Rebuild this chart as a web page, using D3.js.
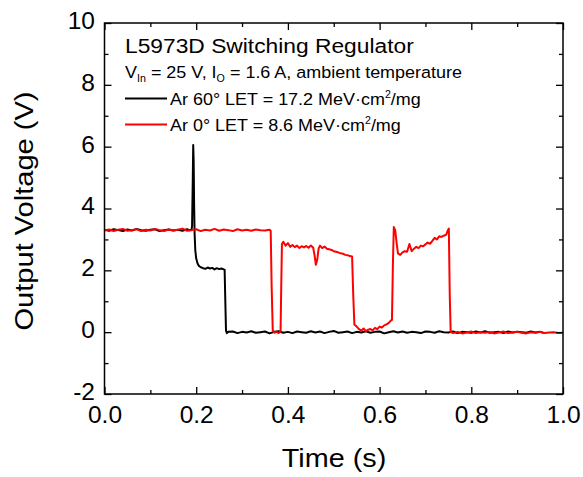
<!DOCTYPE html>
<html><head><meta charset="utf-8">
<script src="https://cdn.jsdelivr.net/npm/d3@7"></script>
<style>
body{margin:0;background:#fff;}
text{font-family:"Liberation Sans",Arial,sans-serif;fill:#000;}
</style></head>
<body><svg id="c" width="583" height="477"></svg>
<script>
const xTicks=[0,0.2,0.4,0.6,0.8,1.0];
const xMinor=[0.1,0.3,0.5,0.7,0.9];
const yTicks=[-2,0,2,4,6,8,10];
const yMinor=[-1,1,3,5,7,9];
const xTitle="Time (s)";
const yTitle="Output Voltage (V)";

const blackT=[0,0.01,0.02,0.03,0.04,0.05,0.06,0.07,0.08,0.09,0.10,0.11,0.12,0.13,0.14,0.15,0.16,0.17,0.18,0.185,0.19,
0.191,0.1925,0.1935,0.1945,0.1955,0.1965,0.198,0.200,0.203,0.206,0.21,0.215,0.22,0.225,0.23,0.235,0.24,0.245,0.25,0.255,0.26,0.262,0.2635,0.265,0.267,0.27,
0.28,0.29,0.30,0.31,0.32,0.33,0.34,0.35,0.36,0.37,0.38,0.39,0.40,0.41,0.42,0.43,0.44,0.45,0.46,0.47,0.48,0.49,0.50,0.51,0.52,0.53,0.54,0.55,0.56,0.57,0.58,0.59,0.60,0.61,0.62,0.63,0.64,0.65,0.66,0.67,0.68,0.69,0.70,0.71,0.72,0.73,0.74,0.75,0.76,0.77,0.78,0.79,0.80,0.81,0.82,0.83,0.84,0.85,0.86,0.87,0.88,0.89,0.90,0.91,0.92,0.93,0.94,0.95,0.96,0.97,0.98,0.99,1.00];
const blackV=[3.31,3.28,3.33,3.30,3.27,3.32,3.29,3.34,3.30,3.28,3.31,3.33,3.27,3.30,3.32,3.29,3.31,3.28,3.33,3.30,3.31,
3.45,4.9,6.05,5.5,4.1,3.2,2.65,2.38,2.22,2.14,2.10,2.07,2.05,2.09,2.06,2.08,2.03,2.07,2.04,2.06,2.03,2.02,1.0,0.05,-0.03,0.01,
0.02,-0.03,0.01,-0.01,0.03,-0.02,0.00,0.02,-0.04,0.01,0.03,-0.02,0.01,-0.03,0.02,0.00,-0.02,0.03,-0.01,0.02,-0.03,0.01,0.04,-0.02,0.00,0.02,-0.03,0.01,-0.01,0.03,-0.02,0.01,0.02,-0.04,0.00,0.03,-0.01,0.02,-0.02,0.01,0.00,-0.03,0.02,0.01,-0.02,0.03,0.00,-0.01,0.02,-0.03,0.01,0.00,-0.02,0.02,-0.01,0.03,-0.02,0.00,0.01,-0.03,0.02,-0.01,0.01,0.00,-0.02,0.02,-0.01,0.01,-0.03];

const redT=[0,0.01,0.02,0.03,0.04,0.05,0.06,0.07,0.08,0.09,0.10,0.11,0.12,0.13,0.14,0.15,0.16,0.17,0.18,0.19,0.20,0.21,0.22,0.23,0.24,0.25,0.26,0.27,0.28,0.29,0.30,0.31,0.32,0.33,0.34,0.35,0.36,
0.3625,0.3645,0.367,0.37,0.375,0.38,0.384,0.3855,0.387,0.39,0.395,0.40,0.405,0.41,0.415,0.42,0.425,0.43,0.435,0.44,0.445,0.45,0.455,0.458,0.461,0.464,0.467,0.47,0.475,0.48,0.485,0.49,0.495,0.50,0.505,0.51,0.515,0.52,0.525,0.53,0.535,0.540,0.5425,0.545,0.55,0.555,0.56,0.565,0.57,0.575,0.58,0.585,0.59,0.595,0.60,0.605,0.61,0.615,0.62,0.625,0.627,0.629,0.631,0.634,0.637,0.64,0.645,0.65,0.655,0.66,0.665,0.67,0.675,0.68,0.685,0.69,0.695,0.70,0.705,0.71,0.715,0.72,0.725,0.73,0.735,0.74,0.745,0.749,0.751,0.753,0.755,0.76,
0.77,0.78,0.79,0.80,0.81,0.82,0.83,0.84,0.85,0.86,0.87,0.88,0.89,0.90,0.91,0.92,0.93,0.94,0.95,0.96,0.97,0.98,0.99,1.00];
const redV=[3.29,3.32,3.27,3.31,3.34,3.28,3.30,3.33,3.27,3.31,3.29,3.34,3.30,3.27,3.32,3.29,3.31,3.35,3.28,3.30,3.33,3.27,3.31,3.29,3.34,3.28,3.32,3.30,3.27,3.33,3.29,3.31,3.28,3.32,3.30,3.29,3.31,
3.28,1.5,0.05,-0.02,0.01,-0.03,0.02,1.5,2.85,2.92,2.80,2.88,2.76,2.82,2.75,2.80,2.72,2.78,2.74,2.79,2.73,2.80,2.74,2.50,2.18,2.35,2.70,2.80,2.72,2.77,2.70,2.68,2.66,2.62,2.60,2.58,2.55,2.54,2.50,2.49,2.46,2.45,1.2,0.25,0.18,0.10,0.05,0.12,0.03,0.08,0.10,0.06,0.14,0.10,0.18,0.15,0.22,0.25,0.30,0.38,0.40,2.2,3.40,3.30,2.90,2.55,2.50,2.58,2.62,2.60,2.85,2.62,2.70,2.76,2.72,2.80,2.78,2.84,2.90,2.86,2.95,3.05,3.00,3.10,3.08,3.12,3.15,3.30,3.35,1.2,0.02,-0.03,
0.01,-0.04,-0.01,0.02,-0.03,0.00,-0.02,0.01,-0.04,-0.01,0.02,-0.03,-0.01,0.01,-0.02,-0.04,0.00,-0.02,0.01,-0.03,-0.01,0.00,-0.03,-0.02];

const legendTitle="L5973D Switching Regulator";
const seriesNames=["Ar 60° LET = 17.2 MeV·cm","Ar 0° LET = 8.6 MeV·cm"];
const seriesColors=["#000000","#ff0000"];

const svg=d3.select("#c");
const L=104.5,R=563,T=23,B=394;
const x=d3.scaleLinear().domain([0,1]).range([L,R]);
const y=d3.scaleLinear().domain([-2,10]).range([B,T]);

svg.append("clipPath").attr("id","clip").append("rect").attr("x",L).attr("y",T).attr("width",R-L).attr("height",B-T);
const line=d3.line().x(d=>x(d[0])).y(d=>y(d[1]));
const blackData=blackT.map((t,i)=>[t,blackV[i]]);
const redData=redT.map((t,i)=>[t,redV[i]]);
const g=svg.append("g").attr("clip-path","url(#clip)");
g.append("path").datum(blackData).attr("d",line).attr("fill","none").attr("stroke",seriesColors[0]).attr("stroke-width",2).attr("stroke-linejoin","round");
g.append("path").datum(redData).attr("d",line).attr("fill","none").attr("stroke",seriesColors[1]).attr("stroke-width",2).attr("stroke-linejoin","round");

function styleAxis(sel){sel.selectAll(".domain").remove();sel.selectAll("line").attr("stroke","#000").attr("stroke-width",1.3);sel.selectAll("text").style("font-size","24.5px").attr("fill","#000").style("font-family","Liberation Sans, Arial, sans-serif");}
const fx=d3.format(".1f");
svg.append("g").attr("transform",`translate(0,${B})`).call(d3.axisBottom(x).tickValues(xTicks).tickSize(-7).tickPadding(12).tickFormat(fx)).call(styleAxis);
svg.append("g").attr("transform",`translate(0,${B})`).call(d3.axisBottom(x).tickValues(xMinor).tickSize(-4).tickFormat("")).call(styleAxis);
svg.append("g").attr("transform",`translate(0,${T})`).call(d3.axisTop(x).tickValues(xTicks).tickSize(-7).tickFormat("")).call(styleAxis);
svg.append("g").attr("transform",`translate(0,${T})`).call(d3.axisTop(x).tickValues(xMinor).tickSize(-4).tickFormat("")).call(styleAxis);
svg.append("g").attr("transform",`translate(${L},0)`).call(d3.axisLeft(y).tickValues(yTicks).tickSize(-7).tickPadding(9.5).tickFormat(d=>String(d))).call(styleAxis)
  .selectAll("text").attr("dy","0.22em");
svg.append("g").attr("transform",`translate(${L},0)`).call(d3.axisLeft(y).tickValues(yMinor).tickSize(-4).tickFormat("")).call(styleAxis);
svg.append("g").attr("transform",`translate(${R},0)`).call(d3.axisRight(y).tickValues(yTicks).tickSize(-7).tickFormat("")).call(styleAxis);
svg.append("g").attr("transform",`translate(${R},0)`).call(d3.axisRight(y).tickValues(yMinor).tickSize(-4).tickFormat("")).call(styleAxis);
svg.append("rect").attr("x",L).attr("y",T).attr("width",R-L).attr("height",B-T).attr("fill","none").attr("stroke","#000").attr("stroke-width",1.5);

// titles (reference glyphs are slightly wide)
svg.append("text").attr("transform","translate(334,467) scale(1.13,1)").attr("text-anchor","middle").style("font-size","25.5px").text(xTitle);
svg.append("text").attr("transform","translate(33,211) rotate(-90) scale(1.14,1)").attr("text-anchor","middle").style("font-size","25.5px").text(yTitle);

// legend
svg.append("text").attr("transform","translate(125,53) scale(1.085,1)").style("font-size","21px").text(legendTitle);
const t2=svg.append("text").attr("transform","translate(125,78) scale(1.07,1)").style("font-size","16.8px");
t2.append("tspan").text("V");
t2.append("tspan").attr("dy",4).style("font-size","10px").text("In");
t2.append("tspan").attr("dy",-4).text(" = 25 V, I");
t2.append("tspan").attr("dy",4).style("font-size","10px").text("O");
t2.append("tspan").attr("dy",-4).text(" = 1.6 A, ambient temperature");
const ly=[98.5,124.5];
seriesNames.forEach((n,i)=>{
  svg.append("line").attr("x1",125).attr("x2",167).attr("y1",ly[i]).attr("y2",ly[i]).attr("stroke",seriesColors[i]).attr("stroke-width",2);
  const t=svg.append("text").attr("transform",`translate(170,${ly[i]+6}) scale(1.07,1)`).style("font-size","16.8px");
  t.append("tspan").text(n);
  t.append("tspan").attr("dy",-7).style("font-size","10px").text("2");
  t.append("tspan").attr("dy",7).text("/mg");
});
</script></body></html>
